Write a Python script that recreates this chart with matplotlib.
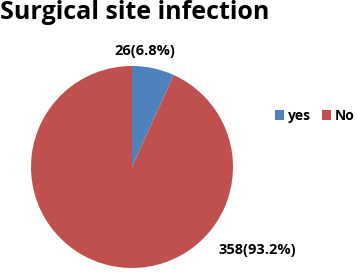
import matplotlib
matplotlib.use('Agg')
import matplotlib.pyplot as plt
from matplotlib.patches import Patch

categories = ['yes', 'No']
counts = [26, 358]
percents = [6.8, 93.2]
colours = ['#4F81BD', '#C0504D']

plt.rcParams['font.family'] = ['Open Sans', 'DejaVu Sans']

fig = plt.figure(figsize=(3.58, 2.74), dpi=100)
W, H = 358, 274
cx, cy, r = 132, 167, 101
ax = fig.add_axes([(cx - r) / W, (H - cy - r) / H, 2 * r / W, 2 * r / H])
wedges, _ = ax.pie(counts, colors=colours, startangle=90, counterclock=False,
                   radius=1.0, wedgeprops=dict(linewidth=0))
ax.set_xlim(-1, 1)
ax.set_ylim(-1, 1)
ax.set_aspect('equal')

labels = [f'{c}({p}%)' for c, p in zip(counts, percents)]
ax.text(0.13, 1.15, labels[0], ha='center', va='center', fontsize=10.5,
        fontweight='bold', clip_on=False)
ax.text(1.24, -0.82, labels[1], ha='center', va='center', fontsize=10.5,
        fontweight='bold', clip_on=False)

fig.text(0.0, 0.955, 'Surgical site infection', ha='left', va='center',
         fontsize=18, fontweight='bold')

handles = [Patch(facecolor=c, edgecolor='none') for c in colours]
fig.legend(handles, categories, loc='center left', bbox_to_anchor=(275 / W, 1 - 116 / H),
           ncol=2, frameon=False, handlelength=0.65, handleheight=0.65,
           handletextpad=0.3, columnspacing=0.75, borderaxespad=0, borderpad=0,
           prop={'weight': 'bold', 'size': 10})

fig.savefig('out.png', dpi=100)
